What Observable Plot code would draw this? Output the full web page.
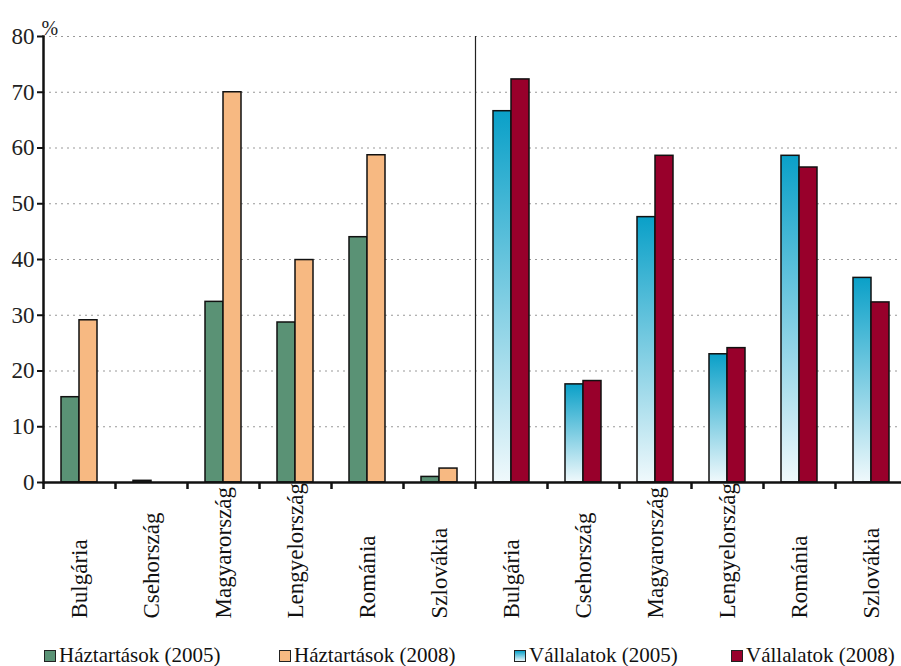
<!DOCTYPE html>
<html>
<head>
<meta charset="utf-8">
<script src="https://cdn.jsdelivr.net/npm/d3@7"></script>
<script src="https://cdn.jsdelivr.net/npm/@observablehq/plot@0.6"></script>
<style>
  html, body { margin: 0; padding: 0; background: #fff; overflow: hidden; width: 901px; height: 666px; }
  #chart { position: relative; width: 901px; height: 666px; font-family: "Liberation Serif", "Times New Roman", serif; }
  #legend { position: absolute; top: 643px; left: 0; width: 901px; height: 24px; font-size: 21px; color: #111; white-space: nowrap; }
  .item { position: absolute; top: 0; display: flex; align-items: center; }
  .sw { width: 10px; height: 10px; border: 1px solid #222; margin-right: 3px; box-sizing: content-box; }
</style>
</head>
<body>
<div id="chart"></div>
<script>
const countries = ["Bulgária", "Csehország", "Magyarország", "Lengyelország", "Románia", "Szlovákia"];
const groups = ["Háztartások", "Vállalatok"];
const haztartasok2005 = [15.3, 0.3, 32.4, 28.7, 44.0, 1.0];
const haztartasok2008 = [29.1, 0, 70.0, 39.9, 58.7, 2.5];
const vallalatok2005 = [66.6, 17.6, 47.6, 23.0, 58.6, 36.7];
const vallalatok2008 = [72.3, 18.2, 58.6, 24.1, 56.5, 32.3];
const yTicks = [0, 10, 20, 30, 40, 50, 60, 70, 80];
const seriesNames = ["Háztartások (2005)", "Háztartások (2008)", "Vállalatok (2005)", "Vállalatok (2008)"];
const colors = ["#5a9275", "#f7b982", "url(#vgrad)", "#98002b"];
const swatchCss = ["#5a9275", "#f7b982", "linear-gradient(#0aa0c8, #eaf7fb)", "#98002b"];

const keys = groups.flatMap(g => countries.map(c => g + "|" + c));
const rows = (g, vals) => countries.map((c, i) => ({key: g + "|" + c, value: vals[i]}));
const dH05 = rows(groups[0], haztartasok2005);
const dH08 = rows(groups[0], haztartasok2008);
const dV05 = rows(groups[1], vallalatok2005);
const dV08 = rows(groups[1], vallalatok2008);

const defs = () => {
  const d = d3.create("svg:defs");
  const lg = d.append("linearGradient").attr("id", "vgrad").attr("x1", 0).attr("y1", 0).attr("x2", 0).attr("y2", 1);
  lg.append("stop").attr("offset", "0%").attr("stop-color", "#0aa0c8");
  lg.append("stop").attr("offset", "100%").attr("stop-color", "#f0f9fc");
  return d.node();
};

const barOpts = {x: "key", y: "value", stroke: "#111", strokeWidth: 1.5};
const FONT = "'Liberation Serif', 'Times New Roman', serif";

const chart = Plot.plot({
  width: 901,
  height: 636,
  marginLeft: 43,
  marginRight: -6,
  marginTop: 36,
  marginBottom: 154,
  style: {fontFamily: FONT, fontSize: "23px", color: "#222", background: "#fff"},
  x: {type: "band", domain: keys, padding: 0, axis: null},
  y: {domain: [0, 80], axis: null},
  marks: [
    defs,
    Plot.gridY(yTicks.filter(t => t > 0), {stroke: "#999", strokeOpacity: 1, strokeDasharray: "2,4", strokeWidth: 1.2}),
    Plot.barY(dH05, {...barOpts, fill: colors[0], insetLeft: 18, insetRight: 36}),
    Plot.barY(dH08, {...barOpts, fill: colors[1], insetLeft: 36, insetRight: 18}),
    Plot.barY(dV05, {...barOpts, fill: colors[2], insetLeft: 18, insetRight: 36}),
    Plot.barY(dV08, {...barOpts, fill: colors[3], insetLeft: 36, insetRight: 18}),
    Plot.ruleX([keys[6]], {dx: -36, stroke: "#222", strokeWidth: 1.2}),
    Plot.frame({anchor: "left", stroke: "#111", strokeWidth: 2.5}),
    Plot.ruleY([0], {stroke: "#111", strokeWidth: 2.5}),
    Plot.axisY({ticks: yTicks, tickSize: 6, tickPadding: 3, fontSize: 23, strokeWidth: 2, stroke: "#111", label: null}),
    Plot.axisX({ticks: keys, tickSize: 7, tickFormat: () => "", dx: -36, strokeWidth: 2.5, stroke: "#111", label: null}),
    Plot.text(keys, {x: d => d, text: d => d.split("|")[1], frameAnchor: "bottom", dy: 136, rotate: -90, textAnchor: "start", lineAnchor: "middle", fontSize: 23, fill: "#111"}),
    Plot.text(["%"], {frameAnchor: "top-left", dx: -2, dy: -16, fontSize: 20, fill: "#222"})
  ]
});

const root = document.getElementById("chart");
root.appendChild(chart);
const legend = document.createElement("div");
legend.id = "legend";
const lefts = [44, 279, 514, 731];
seriesNames.forEach((name, i) => {
  const it = document.createElement("div");
  it.className = "item";
  it.style.left = lefts[i] + "px";
  const sw = document.createElement("span");
  sw.className = "sw";
  sw.style.background = swatchCss[i];
  const tx = document.createElement("span");
  tx.textContent = name;
  it.appendChild(sw);
  it.appendChild(tx);
  legend.appendChild(it);
});
root.appendChild(legend);
</script>
</body>
</html>
